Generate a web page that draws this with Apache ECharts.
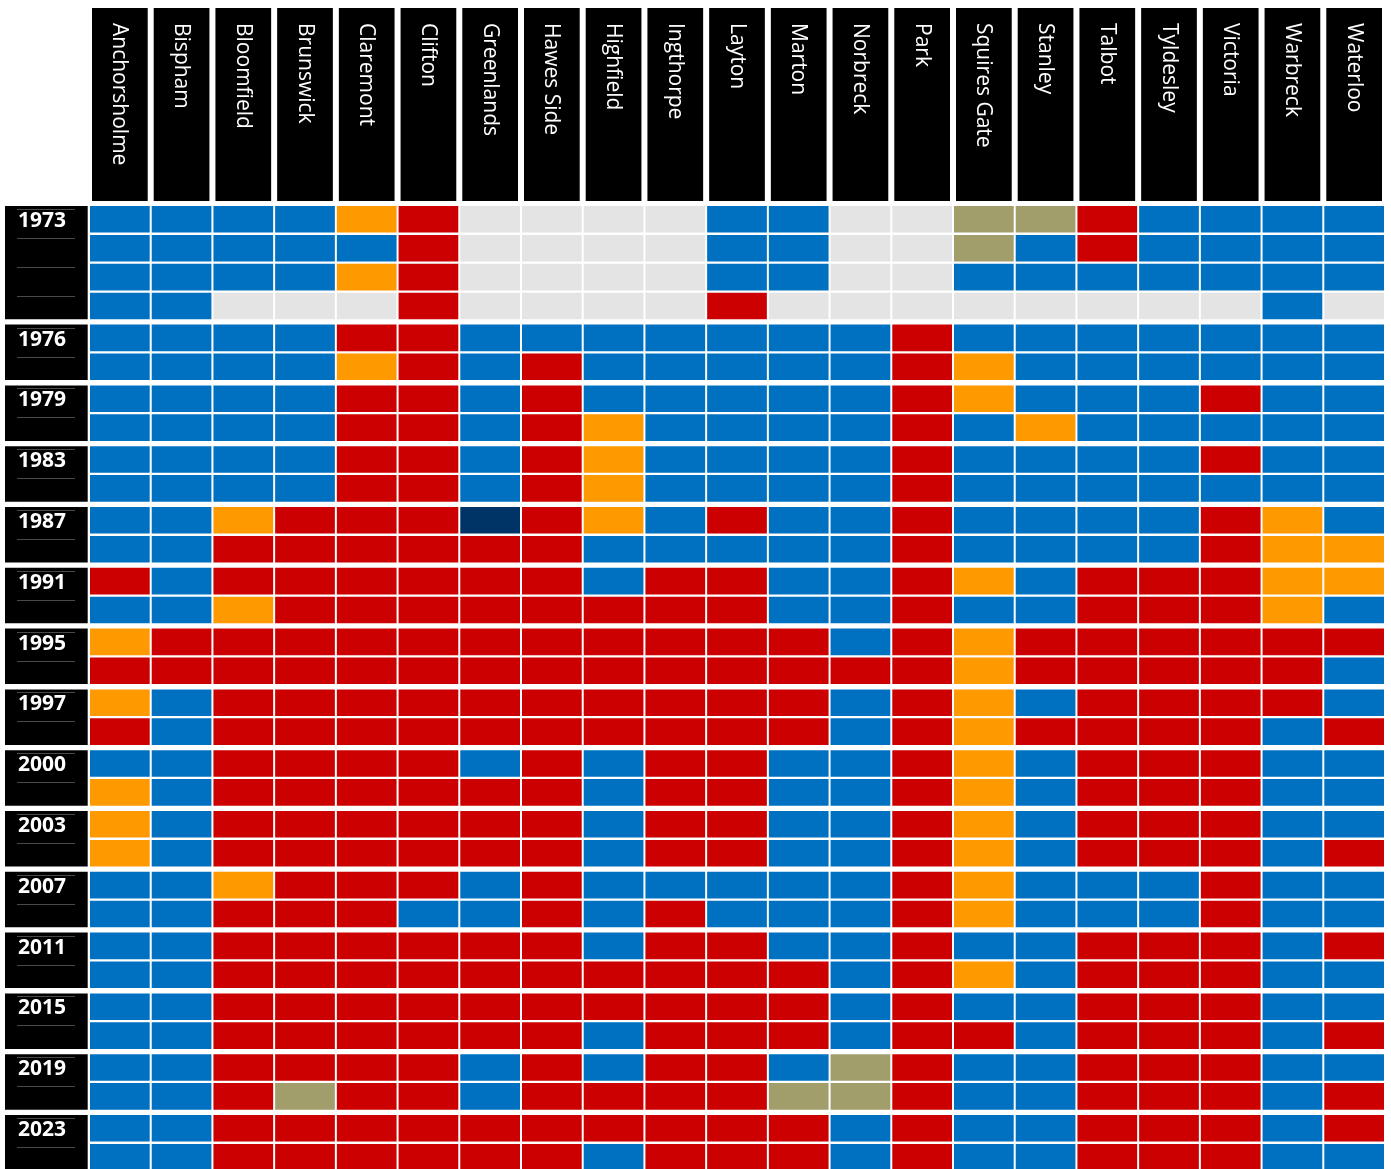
<!DOCTYPE html>
<html>
<head>
<meta charset="utf-8">
<title>Blackpool ward results</title>
<script src="https://cdn.jsdelivr.net/npm/echarts@6/dist/echarts.min.js"></script>
<style>
  html, body { margin: 0; padding: 0; background: #ffffff; height: 1169px; overflow: hidden; }
  #chart { width: 1391px; height: 1180px; }
</style>
</head>
<body>
<div id="chart"></div>
<script>
// Wards (columns)
const wards = ['Anchorsholme', 'Bispham', 'Bloomfield', 'Brunswick', 'Claremont', 'Clifton',
  'Greenlands', 'Hawes Side', 'Highfield', 'Ingthorpe', 'Layton', 'Marton', 'Norbreck', 'Park',
  'Squires Gate', 'Stanley', 'Talbot', 'Tyldesley', 'Victoria', 'Warbreck', 'Waterloo'];

// Party codes: C Conservative, L Labour, D Liberal / Lib Dem, I Independent,
// K Independent Conservative, - no seat
const partyColors = { C: '#0070c0', L: '#cc0000', D: '#ff9900', I: '#a29e6c', K: '#003366', '-': '#e4e4e4' };

// Seats held after each election, one line per seat, wards in column order
const seats1973 = [
  'C C C C D L - - - - C C - - I I L C C C C',
  'C C C C C L - - - - C C - - I C L C C C C',
  'C C C C D L - - - - C C - - C C C C C C C',
  'C C - - - L - - - - L - - - - - - - - C -'
];
const seats1976 = [
  'C C C C L L C C C C C C C L C C C C C C C',
  'C C C C D L C L C C C C C L D C C C C C C'
];
const seats1979 = [
  'C C C C L L C L C C C C C L D C C C L C C',
  'C C C C L L C L D C C C C L C D C C C C C'
];
const seats1983 = [
  'C C C C L L C L D C C C C L C C C C L C C',
  'C C C C L L C L D C C C C L C C C C C C C'
];
const seats1987 = [
  'C C D L L L K L D C L C C L C C C C L D C',
  'C C L L L L L L C C C C C L C C C C L D D'
];
const seats1991 = [
  'L C L L L L L L C L L C C L D C L L L D D',
  'C C D L L L L L L L L C C L C C L L L D C'
];
const seats1995 = [
  'D L L L L L L L L L L L C L D L L L L L L',
  'L L L L L L L L L L L L L L D L L L L L C'
];
const seats1997 = [
  'D C L L L L L L L L L L C L D C L L L L C',
  'L C L L L L L L L L L L C L D L L L L C L'
];
const seats2000 = [
  'C C L L L L C L C L L C C L D C L L L C C',
  'D C L L L L L L C L L C C L D C L L L C C'
];
const seats2003 = [
  'D C L L L L L L C L L C C L D C L L L C C',
  'D C L L L L L L C L L C C L D C L L L C L'
];
const seats2007 = [
  'C C D L L L C L C C C C C L D C C C L C C',
  'C C L L L C C L C L C C C L D C C C L C C'
];
const seats2011 = [
  'C C L L L L L L C L L C C L C C L L L C L',
  'C C L L L L L L L L L L C L D C L L L C C'
];
const seats2015 = [
  'C C L L L L L L L L L L C L C C L L L C C',
  'C C L L L L L L C L L L C L L C L L L C L'
];
const seats2019 = [
  'C C L L L L C L C L L C I L C C L L L C C',
  'C C L I L L C L L L L I I L C C L L L C L'
];
const seats2023 = [
  'C C L L L L L L L L L L C L C C L L L C L',
  'C C L L L L L L C L L L C L C C L L L C C'
];

const years = ['1973', '1976', '1979', '1983', '1987', '1991', '1995', '1997',
  '2000', '2003', '2007', '2011', '2015', '2019', '2023'];
const seatTables = [seats1973, seats1976, seats1979, seats1983, seats1987, seats1991,
  seats1995, seats1997, seats2000, seats2003, seats2007, seats2011, seats2015, seats2019, seats2023];

// Layout constants
const ROW_PX = 28.9;               // pixel pitch of one seat row
const BLOCK_GAP = 3.0 / ROW_PX;    // extra space between election blocks (in row units)
const CELL_GAP_X = 2;
const CELL_GAP_Y = 2.3;

// Row positions along the y value axis
const blocks = [];
const cells = [];
let unit = 0;
years.forEach((year, b) => {
  const rows = seatTables[b];
  blocks.push({ value: [unit, rows.length], name: year });
  rows.forEach((line, r) => {
    line.split(' ').forEach((code, c) => {
      cells.push({ value: [c, unit + r], itemStyle: { color: partyColors[code] } });
    });
  });
  unit += rows.length + BLOCK_GAP;
});
const totalUnits = unit - BLOCK_GAP;

const headerData = wards.map((w, i) => ({ value: [i, 0], name: w }));

const chart = echarts.init(document.getElementById('chart'), null, { renderer: 'canvas' });

chart.setOption({
  animation: false,
  backgroundColor: '#ffffff',
  grid: { left: 90, top: 206, width: 1296, height: totalUnits * ROW_PX },
  xAxis: { type: 'category', data: wards, show: false, boundaryGap: true },
  yAxis: { type: 'value', min: 0, max: totalUnits, inverse: true, show: false },
  series: [
    {
      // seat cells
      type: 'custom',
      clip: false,
      data: cells,
      renderItem(params, api) {
        const p = api.coord([api.value(0), api.value(1)]);
        const bw = api.size([1, 0])[0];
        const rh = api.size([0, 1])[1];
        return {
          type: 'rect',
          shape: { x: p[0] - bw / 2, y: p[1], width: bw - CELL_GAP_X, height: rh - CELL_GAP_Y },
          style: { fill: api.visual('color') }
        };
      }
    },
    {
      // ward headers
      type: 'custom',
      clip: false,
      data: headerData,
      renderItem(params, api) {
        const p = api.coord([api.value(0), 0]);
        const bw = api.size([1, 0])[0];
        const x0 = p[0] - bw / 2 + 2;
        const w = bw - CELL_GAP_X - 4;
        return {
          type: 'group',
          children: [
            { type: 'rect', shape: { x: x0, y: p[1] - 198, width: w, height: 193 }, style: { fill: '#000000' } },
            {
              type: 'text', x: x0 + w / 2 - 0.5, y: p[1] - 183, rotation: -Math.PI / 2,
              style: {
                text: wards[params.dataIndex], fill: '#ffffff',
                font: '500 21px "Open Sans", "Noto Sans", sans-serif',
                align: 'left', verticalAlign: 'middle'
              }
            }
          ]
        };
      }
    },
    {
      // election year labels
      type: 'custom',
      clip: false,
      data: blocks,
      renderItem(params, api) {
        const start = api.value(0);
        const n = api.value(1);
        const top = api.coord([0, start]);
        const bottom = api.coord([0, start + n]);
        const bw = api.size([1, 0])[0];
        const left = top[0] - bw / 2;
        const children = [
          { type: 'rect', shape: { x: left - 85, y: top[1], width: 82.7, height: bottom[1] - top[1] - CELL_GAP_Y }, style: { fill: '#000000' } }
        ];
        for (let r = 0; r < n; r++) {
          const ry = Math.round(api.coord([0, start + r])[1] + 3) + 0.5;
          children.push({
            type: 'line',
            shape: { x1: left - 73, y1: ry, x2: left - 15, y2: ry },
            style: { stroke: '#4a4a4a', lineWidth: 1 }
          });
        }
        children.push({
          type: 'text', x: left - 72, y: top[1] + 15,
          style: {
            text: years[params.dataIndex], fill: '#ffffff',
            font: 'bold 21px "Open Sans", "Noto Sans", sans-serif',
            align: 'left', verticalAlign: 'middle'
          }
        });
        return { type: 'group', children };
      }
    }
  ]
});
</script>
</body>
</html>
